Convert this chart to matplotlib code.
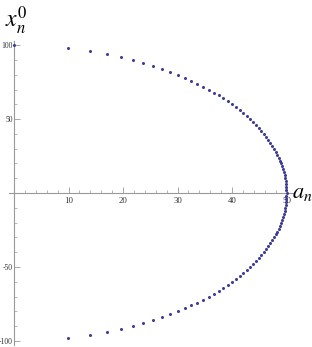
import matplotlib
matplotlib.use("Agg")
import matplotlib.pyplot as plt
from matplotlib.ticker import MultipleLocator

# x_n^0 values (upper branch, 100 down to 0) and matching a_n values
x_upper = [100, 98, 96, 94, 92, 90, 88, 86, 84, 82, 80, 78, 76, 74, 72, 70, 68, 66,
           64, 62, 60, 58, 56, 54, 52, 50, 48, 46, 44, 42, 40, 38, 36, 34, 32, 30,
           28, 26, 24, 22, 20, 18, 16, 14, 12, 10, 8, 6, 4, 2, 0]
a_upper = [0.0, 9.95, 14.0, 17.06, 19.6, 21.79, 23.75, 25.51, 27.13, 28.62, 30.0,
           31.29, 32.5, 33.63, 34.7, 35.71, 36.66, 37.56, 38.42, 39.23, 40.0, 40.73,
           41.42, 42.08, 42.71, 43.3, 43.86, 44.4, 44.9, 45.38, 45.83, 46.25, 46.65,
           47.02, 47.37, 47.7, 48.0, 48.28, 48.54, 48.77, 48.99, 49.18, 49.36, 49.51,
           49.64, 49.75, 49.84, 49.91, 49.96, 49.99, 50.0]
# lower branch (-2 down to -98)
x_lower = [-2, -4, -6, -8, -10, -12, -14, -16, -18, -20, -22, -24, -26, -28, -30,
           -32, -34, -36, -38, -40, -42, -44, -46, -48, -50, -52, -54, -56, -58, -60,
           -62, -64, -66, -68, -70, -72, -74, -76, -78, -80, -82, -84, -86, -88, -90,
           -92, -94, -96, -98]
a_lower = [49.99, 49.96, 49.91, 49.84, 49.75, 49.64, 49.51, 49.36, 49.18, 48.99,
           48.77, 48.54, 48.28, 48.0, 47.7, 47.37, 47.02, 46.65, 46.25, 45.83, 45.38,
           44.9, 44.4, 43.86, 43.3, 42.71, 42.08, 41.42, 40.73, 40.0, 39.23, 38.42,
           37.56, 36.66, 35.71, 34.7, 33.63, 32.5, 31.29, 30.0, 28.62, 27.13, 25.51,
           23.75, 21.79, 19.6, 17.06, 14.0, 9.95]

xticks = [10, 20, 30, 40, 50]
yticks = [-100, -50, 50, 100]

plt.rcParams['mathtext.fontset'] = 'stix'

fig = plt.figure(figsize=(3.12, 3.47), dpi=100)
ax = fig.add_axes([0.0274, 0.0046, 0.9136, 0.878])
ax.set_xlim(-1, 51.3)
ax.set_ylim(-103, 103)

ax.plot(a_upper, x_upper, 'o', color='#3d3d99', ms=2.2, mec='none', zorder=5, clip_on=False)
ax.plot(a_lower, x_lower, 'o', color='#3d3d99', ms=2.2, mec='none', zorder=5, clip_on=False)

for s in ['top', 'right']:
    ax.spines[s].set_visible(False)
ax.spines['left'].set_position(('data', 0))
ax.spines['bottom'].set_position(('data', 0))
for s in ['left', 'bottom']:
    ax.spines[s].set_color('#999999')
    ax.spines[s].set_linewidth(0.8)

ax.set_xticks(xticks)
ax.set_xticklabels([str(t) for t in xticks])
ax.set_yticks(yticks)
ax.set_yticklabels([str(t) for t in yticks])
ax.xaxis.set_minor_locator(MultipleLocator(2))
ax.yaxis.set_minor_locator(MultipleLocator(10))
ax.tick_params(which='major', direction='in', length=4, width=0.6, color='#999999',
               labelcolor='#333333')
ax.tick_params(axis='x', which='major', labelsize=6.3, pad=3)
ax.tick_params(axis='y', which='major', labelsize=5.5, pad=1)
ax.tick_params(which='minor', direction='in', length=2.2, width=0.5, color='#999999')
for lbl in ax.get_xticklabels() + ax.get_yticklabels():
    lbl.set_family('Liberation Serif')

fig.text(0.015, 0.94, r'$x_n^0$', fontsize=17, ha='left', va='center')
fig.text(0.937, 0.445, r'$a_n$', fontsize=16, ha='left', va='center')

fig.savefig('out.png', dpi=100)
